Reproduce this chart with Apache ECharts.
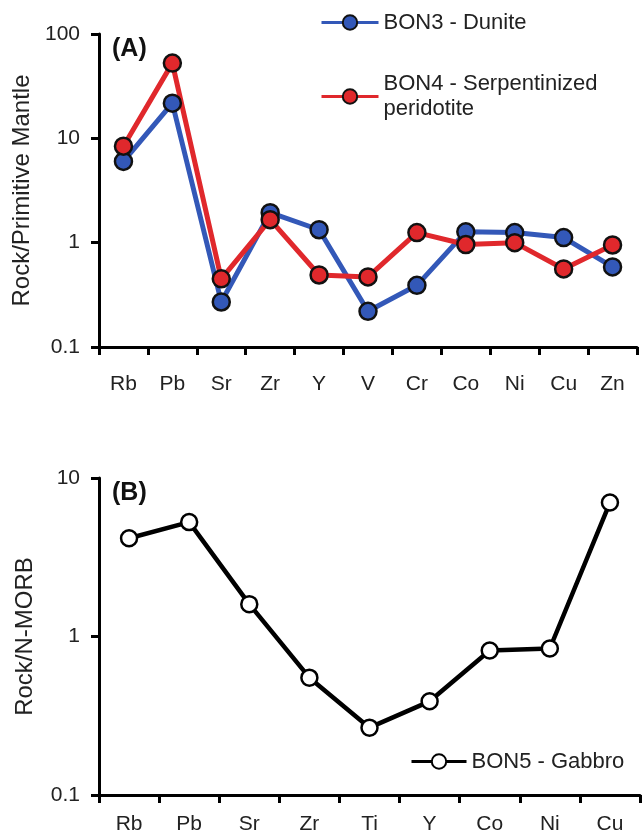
<!DOCTYPE html>
<html>
<head>
<meta charset="utf-8">
<script src="https://cdn.jsdelivr.net/npm/echarts@6/dist/echarts.min.js"></script>
<style>
  html, body { margin: 0; padding: 0; background: #fff; }
  #chart { width: 642px; height: 840px; }
</style>
</head>
<body>
<div id="chart"></div>
<script>
// panel A: normalised to primitive mantle
const elementsA = ['Rb', 'Pb', 'Sr', 'Zr', 'Y', 'V', 'Cr', 'Co', 'Ni', 'Cu', 'Zn']
const bon3 = [6.0, 21.7, 0.27, 1.94, 1.33, 0.22, 0.39, 1.27, 1.25, 1.12, 0.585]
const bon4 = [8.4, 52.6, 0.45, 1.66, 0.49, 0.47, 1.25, 0.96, 1.0, 0.56, 0.95]

// panel B: normalised to N-MORB
const elementsB = ['Rb', 'Pb', 'Sr', 'Zr', 'Ti', 'Y', 'Co', 'Ni', 'Cu']
const bon5 = [4.17, 5.27, 1.6, 0.55, 0.266, 0.39, 0.815, 0.84, 7.0]

const FONT = 'Liberation Sans'
const BLUE = '#3358b8'
const RED = '#e0282c'

var myChart = echarts.init(document.getElementById('chart'))

const axisLine = { show: true, lineStyle: { color: '#000', width: 3 } }
const axisTick = { show: true, length: 8, lineStyle: { color: '#000', width: 3 } }

function logLabel(v) {
  return v < 1 ? v.toFixed(1) : String(Math.round(v))
}

function catAxis(data, gridIndex, margin) {
  return {
    type: 'category',
    gridIndex: gridIndex,
    data: data,
    axisLine: axisLine,
    axisTick: axisTick,
    axisLabel: { color: '#222', fontFamily: FONT, fontSize: 21, margin: margin },
    splitLine: { show: false },
  }
}

function logAxis(gridIndex, max, name) {
  return {
    type: 'log',
    logBase: 10,
    gridIndex: gridIndex,
    min: 0.1,
    max: max,
    name: name,
    nameLocation: 'middle',
    nameGap: 62,
    nameTextStyle: { color: '#222', fontFamily: FONT, fontSize: 24 },
    axisLine: axisLine,
    axisTick: axisTick,
    minorTick: { show: false },
    axisLabel: { color: '#222', fontFamily: FONT, fontSize: 21, margin: 19, formatter: logLabel },
    splitLine: { show: false },
  }
}

const legendText = { color: '#222', fontFamily: FONT, fontSize: 22, lineHeight: 25 }
const legendLine = { width: 3 }

var option = {
  backgroundColor: '#fff',
  animation: false,
  grid: [
    { left: 99, top: 34, width: 538, height: 313 },
    { left: 99, top: 478, width: 541, height: 317 },
  ],
  xAxis: [catAxis(elementsA, 0, 27), catAxis(elementsB, 1, 19)],
  yAxis: [logAxis(0, 100, 'Rock/Primitive Mantle'), logAxis(1, 10, 'Rock/N-MORB')],
  legend: [
    {
      data: ['BON3 - Dunite'],
      left: 315,
      top: 5,
      itemWidth: 57,
      itemHeight: 18,
      lineStyle: legendLine,
      textStyle: legendText,
    },
    {
      // second line of the name is lifted next to the icon with top padding
      data: [{ name: 'BON4 - Serpentinized peridotite', textStyle: { padding: [25, 0, 0, 0] } }],
      formatter: (name) => name.replace(' peridotite', '\nperidotite'),
      left: 315,
      top: 54,
      itemWidth: 57,
      itemHeight: 18,
      lineStyle: legendLine,
      textStyle: legendText,
    },
    {
      data: ['BON5 - Gabbro'],
      left: 405,
      top: 744,
      itemWidth: 55,
      itemHeight: 18,
      lineStyle: legendLine,
      textStyle: legendText,
    },
  ],
  graphic: [
    {
      type: 'text',
      left: 112,
      top: 37,
      style: { text: '(A)', font: 'bold 25px "Liberation Sans"', fill: '#111' },
    },
    {
      type: 'text',
      left: 112,
      top: 481,
      style: { text: '(B)', font: 'bold 25px "Liberation Sans"', fill: '#111' },
    },
  ],
  series: [
    {
      name: 'BON3 - Dunite',
      type: 'line',
      xAxisIndex: 0,
      yAxisIndex: 0,
      data: bon3,
      symbol: 'circle',
      symbolSize: 17,
      lineStyle: { color: BLUE, width: 5 },
      itemStyle: { color: BLUE, borderColor: '#111', borderWidth: 2.5 },
    },
    {
      name: 'BON4 - Serpentinized peridotite',
      type: 'line',
      xAxisIndex: 0,
      yAxisIndex: 0,
      data: bon4,
      symbol: 'circle',
      symbolSize: 17,
      lineStyle: { color: RED, width: 5 },
      itemStyle: { color: RED, borderColor: '#111', borderWidth: 2.5 },
    },
    {
      name: 'BON5 - Gabbro',
      type: 'line',
      xAxisIndex: 1,
      yAxisIndex: 1,
      data: bon5,
      symbol: 'circle',
      symbolSize: 16,
      lineStyle: { color: '#000', width: 4.5 },
      itemStyle: { color: '#fff', borderColor: '#000', borderWidth: 2.5 },
    },
  ],
}

myChart.setOption(option)
</script>
</body>
</html>
